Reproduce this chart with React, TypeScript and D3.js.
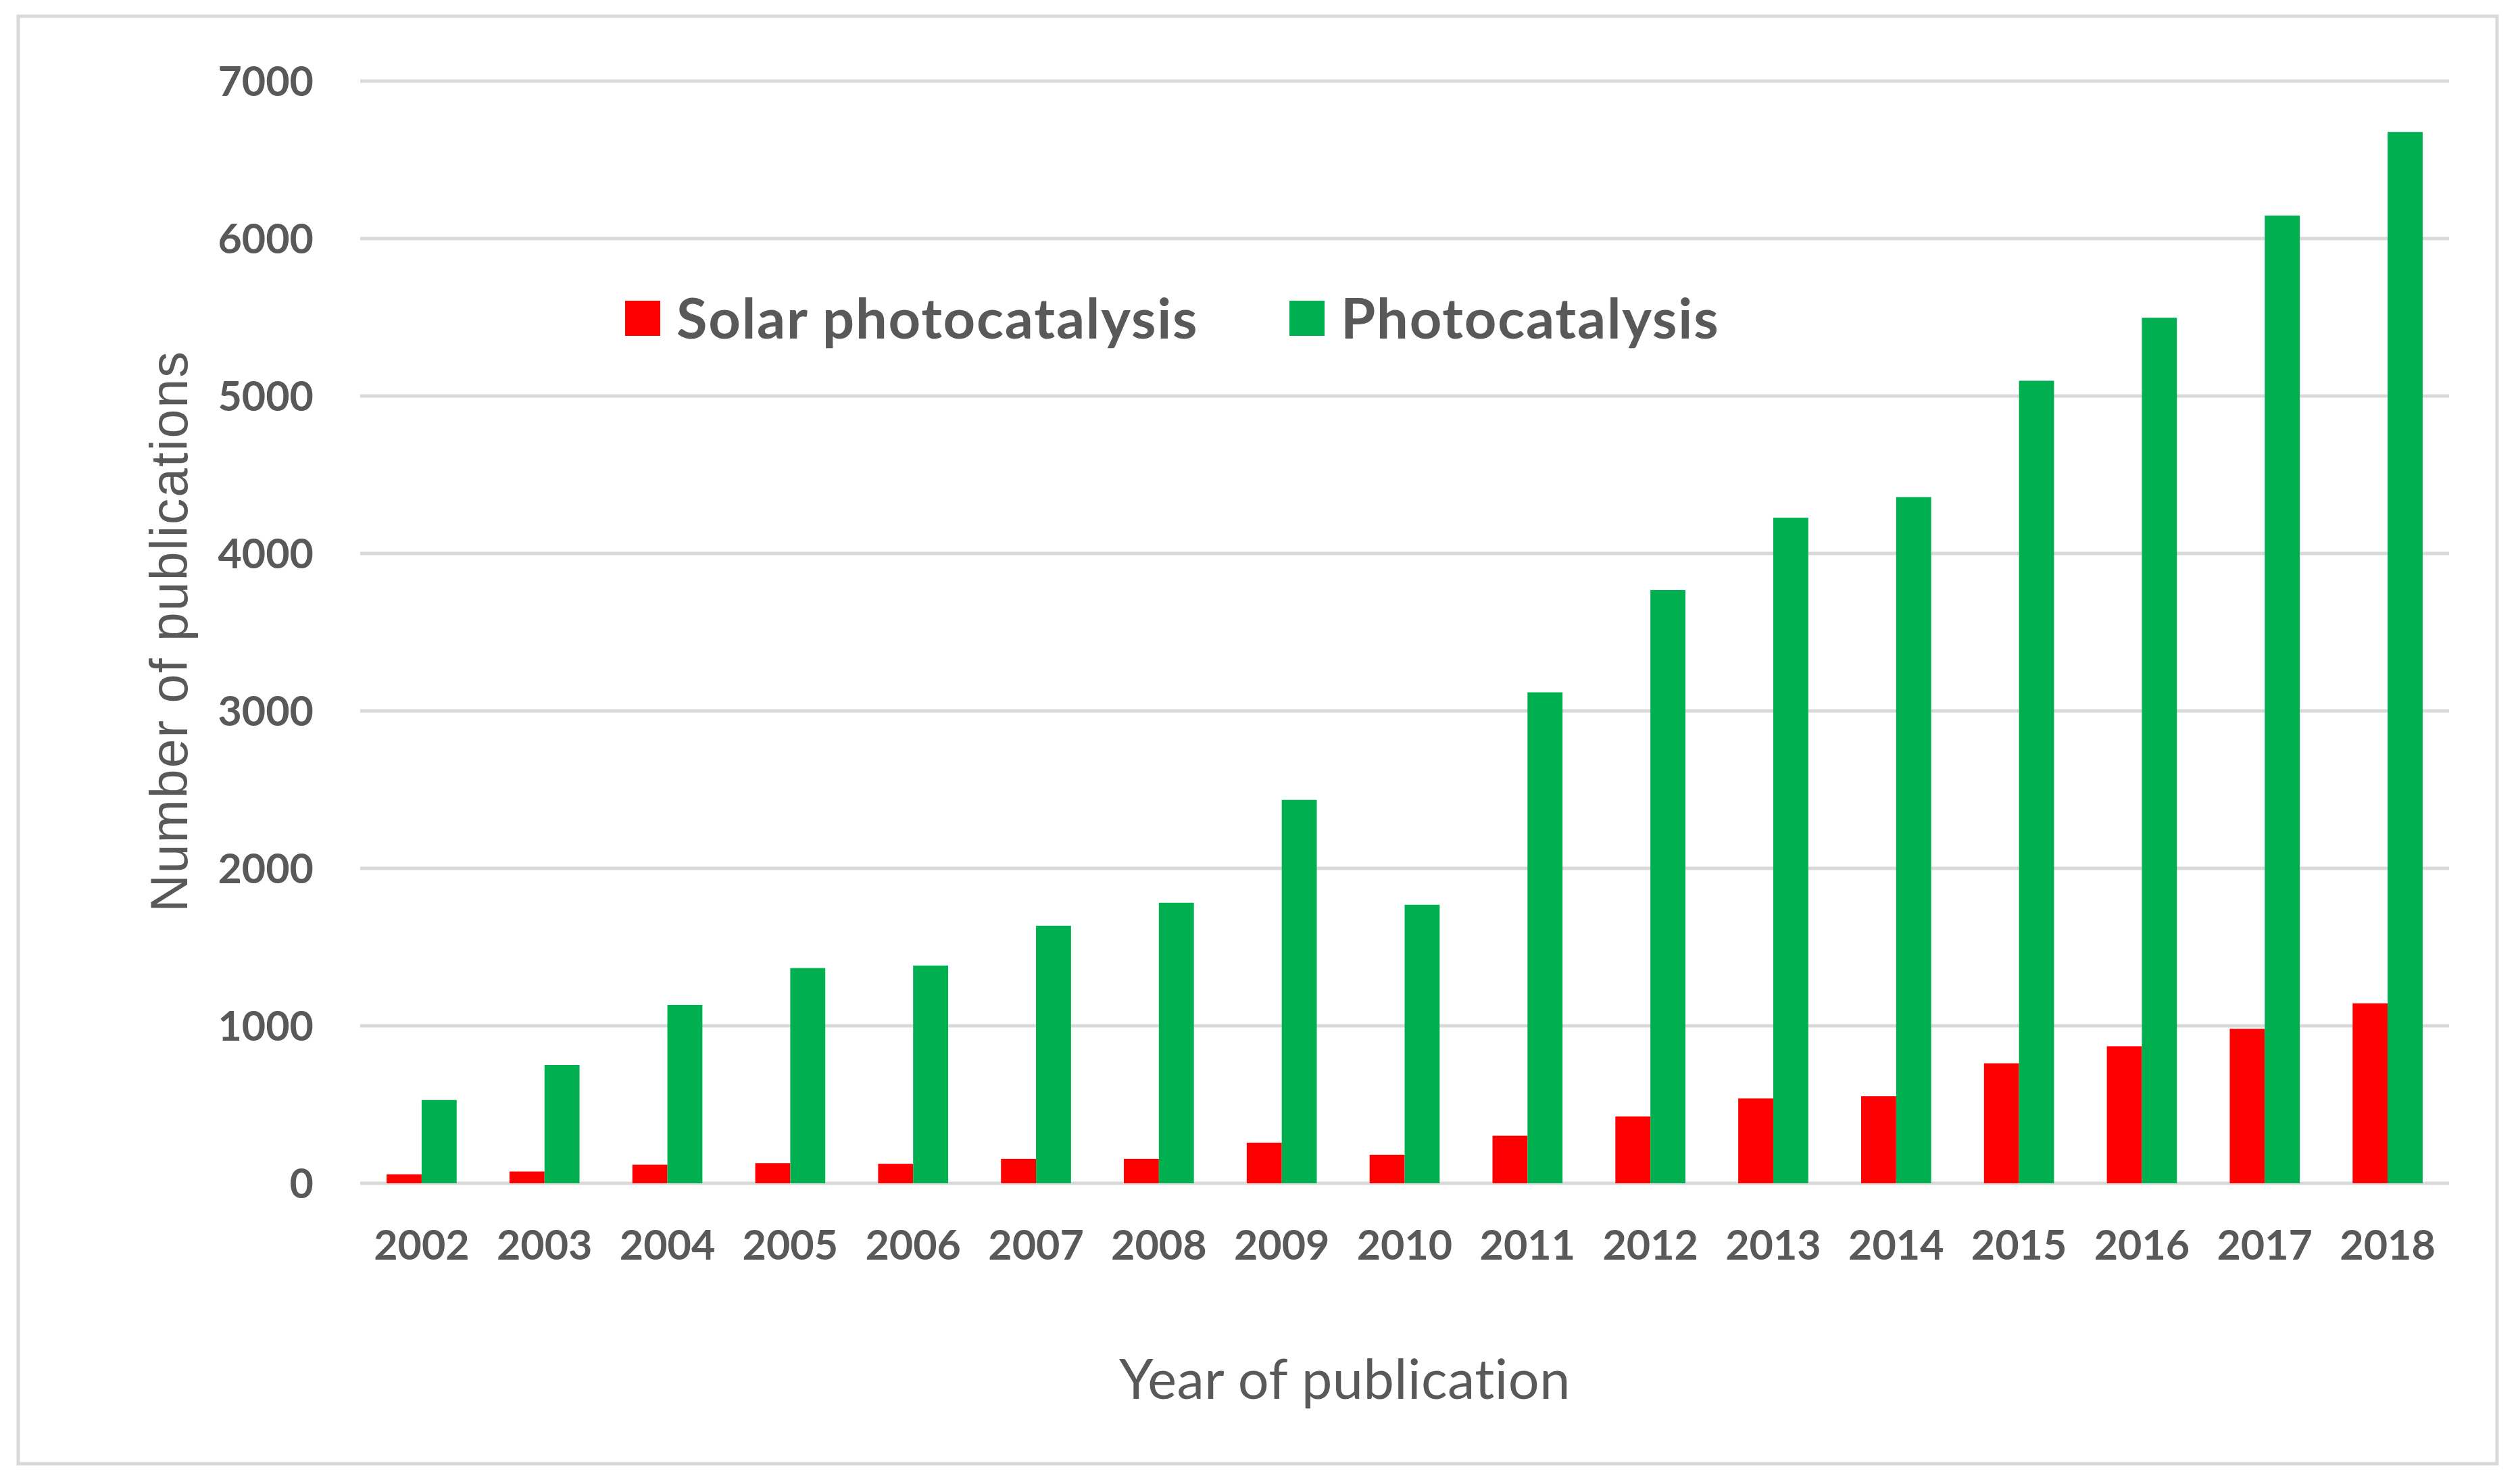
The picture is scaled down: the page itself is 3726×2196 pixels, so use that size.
import React, { useRef, useEffect } from 'react'
import * as d3 from 'd3'

// publication counts per year
const years = ['2002', '2003', '2004', '2005', '2006', '2007', '2008', '2009', '2010',
  '2011', '2012', '2013', '2014', '2015', '2016', '2017', '2018']
const solarPhotocatalysis = [57, 75, 118, 128, 124, 155, 155, 258, 181, 302, 424, 539, 553, 762, 870, 981, 1143]
const photocatalysis = [529, 751, 1133, 1367, 1383, 1636, 1782, 2435, 1769, 3118, 3768, 4227, 4358, 5097, 5497, 6146, 6677]
const seriesNames = ['Solar photocatalysis', 'Photocatalysis']
const seriesColors = ['#ff0000', '#00b050']
const yTicks = [0, 1000, 2000, 3000, 4000, 5000, 6000, 7000]

const width = 3726
const height = 2196
const margin = { top: 120, right: 102, bottom: 445, left: 533 }
const textColor = '#595959'
const gridColor = '#d9d9d9'

function App() {
  const svgRef = useRef<SVGSVGElement | null>(null)

  useEffect(() => {
    const svg = d3.select(svgRef.current)
    svg.selectAll('*').remove()

    const series = [solarPhotocatalysis, photocatalysis]

    // scales
    const xScale = d3.scaleBand<string>()
      .domain(years)
      .range([margin.left, width - margin.right])
      .paddingInner(0.43)
      .paddingOuter(0.215)
    const subScale = d3.scaleBand<number>()
      .domain([0, 1])
      .range([0, xScale.bandwidth()])
    const yScale = d3.scaleLinear()
      .domain([0, 7000])
      .range([height - margin.bottom, margin.top])

    // outer frame
    svg.append('rect')
      .attr('x', 27).attr('y', 24)
      .attr('width', 3668).attr('height', 2142)
      .attr('fill', 'white')
      .attr('stroke', gridColor)
      .attr('stroke-width', 5)

    // gridlines
    svg.append('g')
      .selectAll('line')
      .data(yTicks)
      .join('line')
      .attr('x1', margin.left)
      .attr('x2', width - margin.right)
      .attr('y1', (d) => yScale(d))
      .attr('y2', (d) => yScale(d))
      .attr('stroke', gridColor)
      .attr('stroke-width', 5)

    // y tick labels
    svg.append('g')
      .selectAll('text')
      .data(yTicks)
      .join('text')
      .attr('x', margin.left - 69)
      .attr('y', (d) => yScale(d))
      .attr('dy', '0.36em')
      .attr('text-anchor', 'end')
      .attr('font-family', 'Lato')
      .attr('font-weight', 'bold')
      .attr('font-size', 61)
      .attr('fill', textColor)
      .text((d) => String(d))

    // bars
    series.forEach((values, i) => {
      svg.append('g')
        .selectAll('rect')
        .data(values)
        .join('rect')
        .attr('x', (d, j) => (xScale(years[j]) as number) + (subScale(i) as number))
        .attr('y', (d) => yScale(d))
        .attr('width', subScale.bandwidth())
        .attr('height', (d) => yScale(0) - yScale(d))
        .attr('fill', seriesColors[i])
    })

    // x tick labels
    svg.append('g')
      .selectAll('text')
      .data(years)
      .join('text')
      .attr('x', (d) => (xScale(d) as number) + xScale.bandwidth() / 2)
      .attr('y', 1864)
      .attr('text-anchor', 'middle')
      .attr('font-family', 'Lato')
      .attr('font-weight', 'bold')
      .attr('font-size', 61)
      .attr('fill', textColor)
      .text((d) => d)

    // axis titles
    svg.append('text')
      .attr('x', 1990)
      .attr('y', 2070)
      .attr('text-anchor', 'middle')
      .attr('font-family', 'Lato')
      .attr('font-size', 81)
      .attr('letter-spacing', 0.5)
      .attr('fill', textColor)
      .text('Year of publication')

    svg.append('text')
      .attr('transform', 'translate(277,934) rotate(-90)')
      .attr('text-anchor', 'middle')
      .attr('font-family', 'Liberation Sans')
      .attr('font-size', 77)
      .attr('letter-spacing', 2)
      .attr('fill', textColor)
      .text('Number of publications')

    // legend
    const legendX = [925, 1908]
    const legend = svg.append('g')
      .selectAll('g')
      .data(seriesNames)
      .join('g')
      .attr('transform', (d, i) => `translate(${legendX[i]},445)`)
    legend.append('rect')
      .attr('width', 52)
      .attr('height', 52)
      .attr('fill', (d, i) => seriesColors[i])
    legend.append('text')
      .attr('x', 76)
      .attr('y', 56)
      .attr('font-family', 'Lato')
      .attr('font-weight', 'bold')
      .attr('font-size', 83)
      .attr('letter-spacing', 1.8)
      .attr('fill', textColor)
      .text((d) => d)
  }, [])

  return (
    <div style={{ position: 'absolute', left: 0, top: 0 }}>
      <svg ref={svgRef} width={width} height={height} style={{ display: 'block', background: 'white' }}></svg>
    </div>
  )
}

export default App
